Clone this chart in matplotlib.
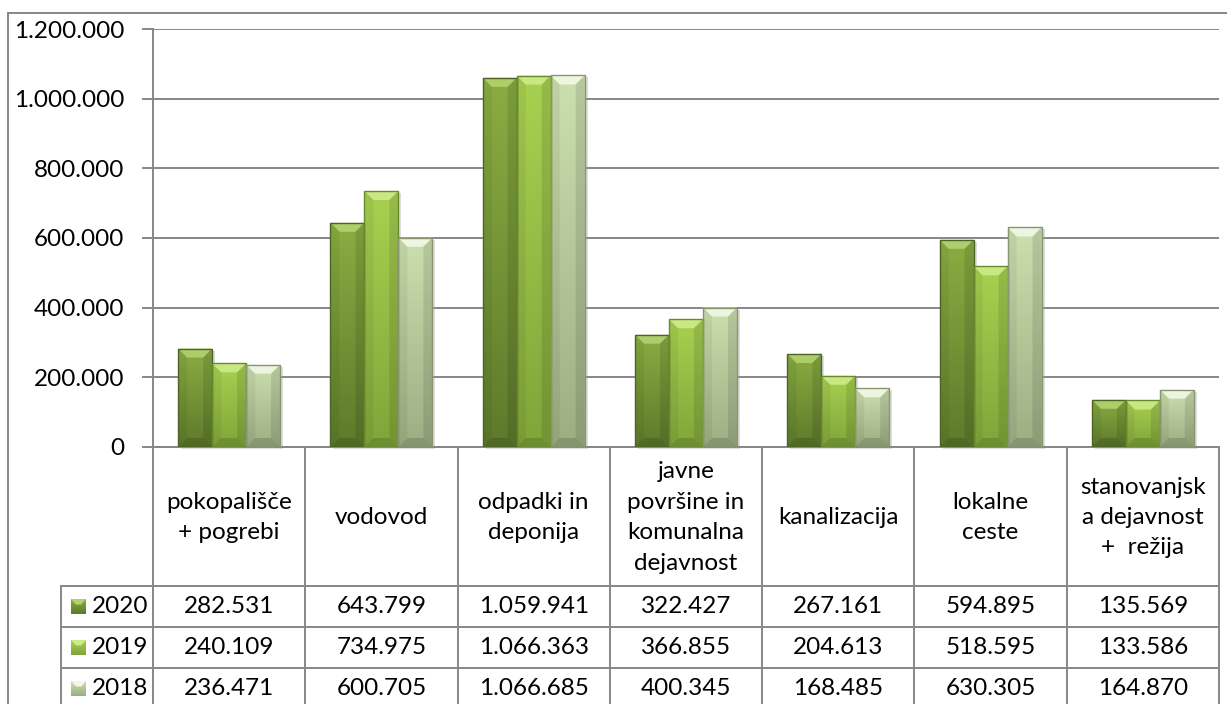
import matplotlib.pyplot as plt
import matplotlib.colors as mcolors
from matplotlib.patches import Rectangle, Polygon
from matplotlib.lines import Line2D
import numpy as np

plt.rcParams['font.family'] = ['Lato', 'DejaVu Sans']

# data
categories = ['pokopališče\n+ pogrebi', 'vodovod', 'odpadki in\ndeponija',
              'javne\npovršine in\nkomunalna\ndejavnost', 'kanalizacija',
              'lokalne\nceste', 'stanovanjsk\na dejavnost\n+  režija']
years = ['2020', '2019', '2018']
v2020 = [282531, 643799, 1059941, 322427, 267161, 594895, 135569]
v2019 = [240109, 734975, 1066363, 366855, 204613, 518595, 133586]
v2018 = [236471, 600705, 1066685, 400345, 168485, 630305, 164870]
series = [v2020, v2019, v2018]
yticks = [0, 200000, 400000, 600000, 800000, 1000000, 1200000]

# colours: (gradient top, gradient bottom, bevel light, edge)
styles = [('#8AAD42', '#5D7A2B', '#B2D270', '#4E6426'),
          ('#A8D150', '#80A53A', '#CDEB8A', '#678A2C'),
          ('#CCDFAE', '#9DAE83', '#F2F8E6', '#879670')]

W, H = 1227, 704
fig = plt.figure(figsize=(W / 100, H / 100), dpi=100)
L, R, T, B = 153, 1219, 29, 447
ax = fig.add_axes([L / W, 1 - B / H, (R - L) / W, (B - T) / H])

def fmt(v):
    return f'{v:,}'.replace(',', '.')

fs = 17.5
grid_c = '#878787'
n = len(categories)
x = np.arange(n)
bw = 0.223
ax.set_xlim(-0.5, n - 0.5)
ax.set_ylim(0, 1200000)

px_x = n / (R - L)
px_y = 1200000 / (B - T)
bev = 9

for i, (vals, st) in enumerate(zip(series, styles)):
    top_c, bot_c, light_c, edge_c = st
    cmap = mcolors.LinearSegmentedColormap.from_list('g', [bot_c, top_c])
    pos = x + (i - 1) * bw
    for xc, h in zip(pos, vals):
        x0, x1 = xc - bw / 2, xc + bw / 2
        # shadow
        ax.add_patch(Rectangle((x0 + 3 * px_x, -2 * px_y), bw, h, color='#A0A0A0', alpha=0.35,
                               lw=0, zorder=2, clip_on=False))
        rect = Rectangle((x0, 0), bw, h, facecolor='none', edgecolor=edge_c, lw=1.0, zorder=5)
        ax.add_patch(rect)
        im = ax.imshow(np.linspace(1, 0, 100).reshape(-1, 1), cmap=cmap, aspect='auto',
                       extent=(x0, x1, 0, h), zorder=3)
        im.set_clip_path(rect)
        dx, dy = bev * px_x, bev * px_y
        # top bevel
        ax.add_patch(Polygon([(x0, h), (x1, h), (x1 - dx, h - dy), (x0 + dx, h - dy)],
                             closed=True, facecolor=light_c, edgecolor='none', alpha=0.9, zorder=4))
        # side and bottom bevels
        ax.add_patch(Polygon([(x1, h), (x1, 0), (x1 - dx, dy), (x1 - dx, h - dy)],
                             closed=True, facecolor='black', edgecolor='none', alpha=0.10, zorder=4))
        ax.add_patch(Polygon([(x0, h), (x0, 0), (x0 + dx, dy), (x0 + dx, h - dy)],
                             closed=True, facecolor='black', edgecolor='none', alpha=0.05, zorder=4))
        ax.add_patch(Polygon([(x0, 0), (x1, 0), (x1 - dx, dy), (x0 + dx, dy)],
                             closed=True, facecolor='black', edgecolor='none', alpha=0.14, zorder=4))

ax.set_yticks(yticks)
ax.set_yticklabels([fmt(v) for v in yticks], fontsize=fs)
ax.set_xticks([])
ax.grid(axis='y', color=grid_c, lw=1.4, zorder=1)
ax.set_axisbelow(True)
ax.tick_params(axis='y', length=8, width=1.4, color=grid_c, pad=12.5)
for s in ['top', 'right']:
    ax.spines[s].set_visible(False)
for s in ['left', 'bottom']:
    ax.spines[s].set_color(grid_c)
    ax.spines[s].set_linewidth(1.4)

# overlay for the data table and frame (pixel coordinates)
ov = fig.add_axes([0, 0, 1, 1], zorder=-1)
ov.set_xlim(0, W)
ov.set_ylim(H, 0)
ov.axis('off')

def line(xs, ys):
    ov.add_line(Line2D(xs, ys, color=grid_c, lw=1.4))

# outer frame
line([8, 8], [13, H])
line([8, W], [13, 13])

cw = (R - L) / n
rows = [586, 627, 668, 709]
key_l = 61
for k in range(n + 1):
    xx = L + k * cw
    line([xx, xx], [B, H])
line([key_l, key_l], [rows[0], H])
for yy in rows[:3]:
    line([key_l, R], [yy, yy])

for k, cat in enumerate(categories):
    ov.text(L + (k + 0.5) * cw, (B + rows[0]) / 2 + 1, cat, ha='center', va='center',
            fontsize=fs, linespacing=1.55)

for r, (yr, vals, st) in enumerate(zip(years, series, styles)):
    yc = (rows[r] + rows[r + 1]) / 2
    cmap = mcolors.LinearSegmentedColormap.from_list('g', [st[1], st[0]])
    ov.imshow(np.linspace(1, 0, 20).reshape(-1, 1), cmap=cmap, aspect='auto',
              extent=(71, 86, yc + 7.5, yc - 7.5), zorder=3)
    ov.add_patch(Polygon([(71, yc - 7.5), (86, yc - 7.5), (81, yc - 2), (76, yc - 2)],
                         closed=True, facecolor=st[2], edgecolor='none', zorder=4))
    ov.text(92, yc, yr, ha='left', va='center', fontsize=fs)
    for k, v in enumerate(vals):
        ov.text(L + (k + 0.5) * cw, yc, fmt(v), ha='center', va='center', fontsize=fs)
ov.set_xlim(0, W)
ov.set_ylim(H, 0)

fig.savefig('out.png', dpi=100)
